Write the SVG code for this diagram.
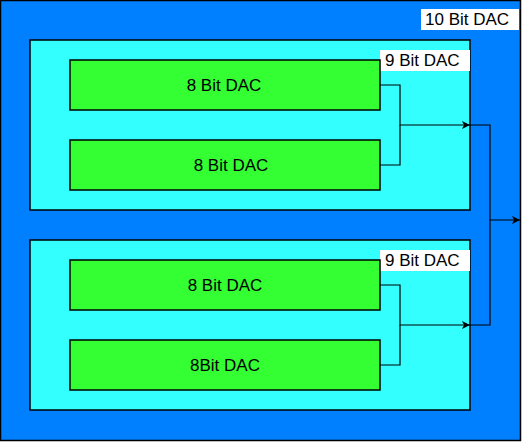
<svg xmlns="http://www.w3.org/2000/svg" width="530" height="442" viewBox="0 0 530 442">
<style>
.outer{fill:#007FFF;stroke:#000;stroke-width:1.5}
.mid{fill:#33FFFF;stroke:#000;stroke-width:1.5}
.inner{fill:#33FF33;stroke:#000;stroke-width:1.5}
.lblbg{fill:#fff}
text{font-family:"Liberation Sans",Arial,sans-serif;font-size:17px;fill:#000}
.c{text-anchor:middle}
.conn{fill:none;stroke:#000;stroke-width:1.2}
</style>
<defs>
<marker id="arr" viewBox="0 0 10 10" refX="10" refY="5" markerWidth="8" markerHeight="8" markerUnits="userSpaceOnUse" orient="auto">
<path d="M0,0 L10,5 L0,10 L2.5,5 Z" fill="#000"/>
</marker>
</defs>
<g id="dac10">
<rect class="outer" x="0.5" y="0.5" width="520" height="440"/>
<rect class="lblbg" x="421" y="9" width="98" height="21"/>
<text x="425" y="25">10 Bit DAC</text>
</g>
<g id="dac9a">
<rect class="mid" x="30" y="40" width="440" height="170"/>
<rect class="lblbg" x="380" y="50" width="90" height="21"/>
<text x="385" y="66">9 Bit DAC</text>
</g>
<g id="dac9b">
<rect class="mid" x="30" y="240" width="440" height="170"/>
<rect class="lblbg" x="380" y="250" width="90" height="21"/>
<text x="385" y="266">9 Bit DAC</text>
</g>
<g id="dac8a">
<rect class="inner" x="70" y="60" width="310" height="50"/>
<text class="c" x="224" y="91">8 Bit DAC</text>
</g>
<g id="dac8b">
<rect class="inner" x="70" y="140" width="310" height="50"/>
<text class="c" x="231" y="171">8 Bit DAC</text>
</g>
<g id="dac8c">
<rect class="inner" x="70" y="260" width="310" height="50"/>
<text class="c" x="225" y="291">8 Bit DAC</text>
</g>
<g id="dac8d">
<rect class="inner" x="70" y="340" width="310" height="50"/>
<text class="c" x="225" y="371">8Bit DAC</text>
</g>
<g id="connectors">
<polyline class="conn" points="380,85 400,85 400,125 470,125" marker-end="url(#arr)"/>
<polyline class="conn" points="380,165 400,165 400,125"/>
<polyline class="conn" points="380,285 400,285 400,325 470,325" marker-end="url(#arr)"/>
<polyline class="conn" points="380,365 400,365 400,325"/>
<polyline class="conn" points="470,125 490,125 490,220 520,220" marker-end="url(#arr)"/>
<polyline class="conn" points="470,325 490,325 490,220"/>
</g>
</svg>
